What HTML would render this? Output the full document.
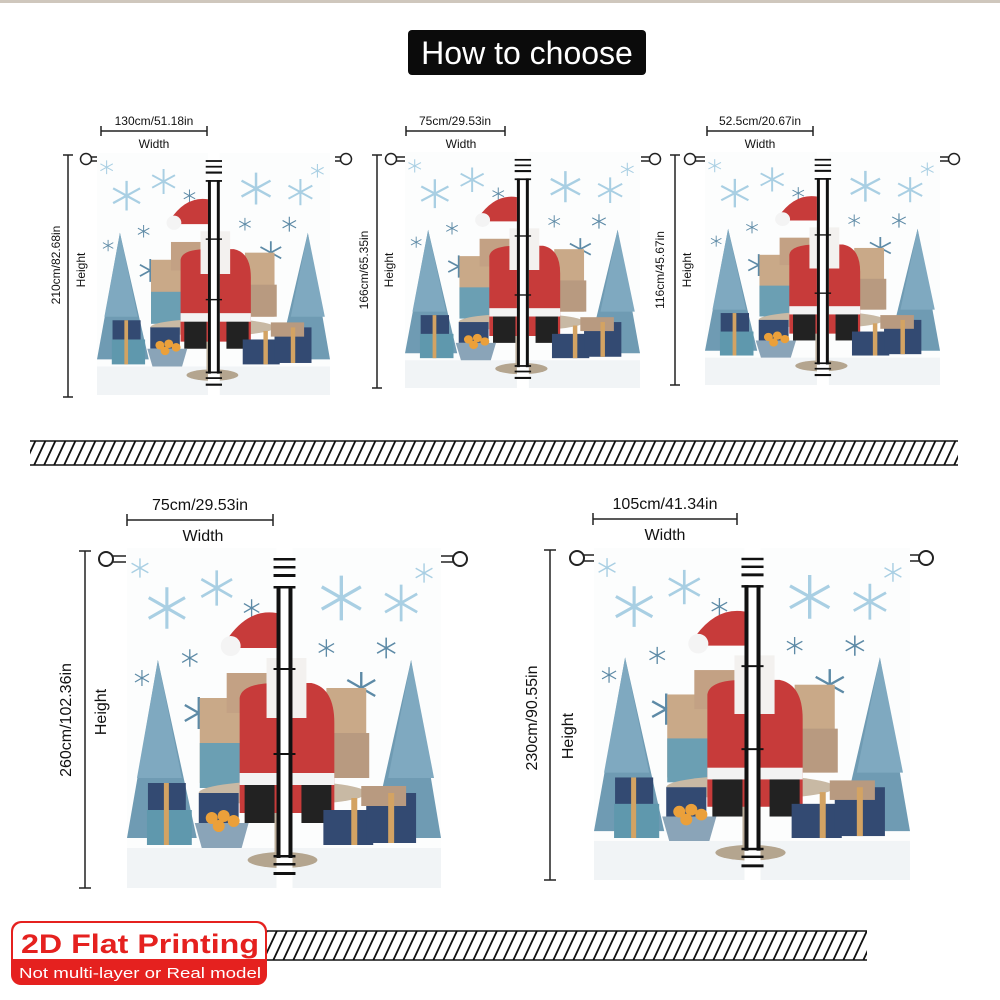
<!DOCTYPE html>
<html><head><meta charset="utf-8"><style>
html,body{margin:0;padding:0;background:#fff;}
svg{display:block;font-family:"Liberation Sans",sans-serif;}
</style></head><body>
<svg width="1000" height="1000" viewBox="0 0 1000 1000" xmlns="http://www.w3.org/2000/svg">
<defs>
<pattern id="hatch" width="10" height="30" patternUnits="userSpaceOnUse" patternTransform="skewX(-25)">
<rect width="10" height="30" fill="#fff"/><rect x="0" y="0" width="2" height="30" fill="#111"/>
</pattern>
<g id="flake"><path d="M0-8V8M-7-4L7 4M-7 4L7-4" stroke="currentColor" stroke-width="1.2"/></g>
<symbol id="cur" viewBox="0 0 315 340" preserveAspectRatio="none">
<rect width="315" height="340" fill="#fcfdfd"/>
<rect x="0" y="300" width="315" height="40" fill="#f1f4f6"/>
<g color="#a9cfe3">
<use href="#flake" transform="translate(90,40) scale(2.2)"/>
<use href="#flake" transform="translate(40,60) scale(2.6)"/>
<use href="#flake" transform="translate(215,50) scale(2.8)"/>
<use href="#flake" transform="translate(275,55) scale(2.3)"/>
<use href="#flake" transform="translate(13,20) scale(1.2)"/>
<use href="#flake" transform="translate(298,25) scale(1.2)"/>
</g>
<g color="#5d8aa6">
<use href="#flake" transform="translate(72,165) scale(2)"/>
<use href="#flake" transform="translate(235,140) scale(2)"/>
<use href="#flake" transform="translate(125,60) scale(1.1)"/>
<use href="#flake" transform="translate(260,100) scale(1.3)"/>
<use href="#flake" transform="translate(63,110) scale(1.1)"/>
<use href="#flake" transform="translate(200,100) scale(1.1)"/>
<use href="#flake" transform="translate(15,130) scale(1)"/>
</g>
<polygon points="31,112 0,290 70,290" fill="#6f9bb3"/>
<polygon points="31,112 10,230 55,230" fill="#7fa9c0"/>
<rect x="27" y="285" width="8" height="10" fill="#8a6d4f"/>
<polygon points="285,112 245,290 315,290" fill="#6f9bb3"/>
<polygon points="285,112 262,230 308,230" fill="#7fa9c0"/>
<rect x="73" y="150" width="70" height="85" fill="#c9a988"/>
<rect x="100" y="125" width="40" height="40" fill="#c3a184"/>
<rect x="73" y="195" width="45" height="45" fill="#6b9fb3"/>
<rect x="200" y="140" width="40" height="90" fill="#c9a988"/>
<rect x="195" y="185" width="48" height="45" fill="#b89a80"/>
<ellipse cx="156" cy="245" rx="84" ry="12" fill="#c8b9a4"/>
<rect x="148" y="250" width="16" height="60" fill="#bcae9a"/>
<ellipse cx="156" cy="312" rx="35" ry="8" fill="#b4a58f"/>
<path d="M113 150 Q115 135 150 135 L185 135 Q208 140 208 175 L208 265 L113 265 Z" fill="#c73b3a"/>
<rect x="140" y="110" width="40" height="60" fill="#f3f1ef"/>
<path d="M98 95 Q120 60 150 65 L165 70 L160 100 L110 100 Z" fill="#c73b3a"/>
<circle cx="104" cy="98" r="10" fill="#f4f4f4"/>
<rect x="118" y="235" width="30" height="40" fill="#222"/>
<rect x="175" y="235" width="30" height="40" fill="#222"/>
<rect x="113" y="225" width="95" height="12" fill="#f3f3f3"/>
<rect x="21" y="235" width="38" height="30" fill="#334a72"/>
<rect x="20" y="262" width="45" height="35" fill="#5f98ad"/>
<rect x="37" y="235" width="5" height="62" fill="#d3a363"/>
<rect x="72" y="245" width="40" height="30" fill="#334a72"/>
<path d="M68 275 L122 275 L115 300 L75 300 Z" fill="#8aa4b8"/>
<circle cx="85" cy="270" r="6" fill="#eba03a"/><circle cx="97" cy="268" r="6" fill="#eba03a"/><circle cx="107" cy="273" r="6" fill="#eba03a"/><circle cx="92" cy="278" r="6" fill="#eba03a"/>
<rect x="197" y="262" width="50" height="35" fill="#334a72"/>
<rect x="240" y="245" width="50" height="50" fill="#334a72"/>
<rect x="235" y="238" width="45" height="20" fill="#b89a80"/>
<rect x="225" y="250" width="6" height="47" fill="#d3a363"/>
<rect x="262" y="245" width="6" height="50" fill="#d3a363"/>
<rect x="150" y="0" width="16" height="340" fill="#fff"/>
<g fill="#111">
<rect x="147" y="10" width="22" height="2.5"/><rect x="147" y="18" width="22" height="2.5"/><rect x="147" y="26" width="22" height="3"/>
<rect x="150" y="38" width="4" height="272"/><rect x="162" y="38" width="4" height="272"/>
<rect x="147" y="38" width="22" height="2.5"/><rect x="147" y="307" width="22" height="2.5"/>
<rect x="147" y="315" width="22" height="2.5"/><rect x="147" y="324" width="22" height="3"/>
<rect x="147" y="120" width="22" height="2"/><rect x="147" y="205" width="22" height="2"/>
</g>
</symbol>
</defs>

<rect x="0" y="0" width="1000" height="3" fill="#cfc7bd"/>
<rect x="408" y="30" width="238" height="45" rx="4" fill="#0b0b0b"/>
<text x="527" y="64" font-size="32" fill="#fff" text-anchor="middle">How to choose</text>

<g stroke="#222" fill="none" stroke-width="1.5">
<path d="M101 131H207M101 126V136M207 126V136"/>
<path d="M68 155V397M63 155H73M63 397H73"/>
<circle cx="86" cy="159" r="5.5" fill="#fff"/><path d="M91 157H97M91 161H97"/>
<circle cx="346" cy="159" r="5.5" fill="#fff"/><path d="M335 157H341M335 161H341"/>
<path d="M406 131H505M406 126V136M505 126V136"/>
<path d="M377 155V388M372 155H382M372 388H382"/>
<circle cx="391" cy="159" r="5.5" fill="#fff"/><path d="M396 157H405M396 161H405"/>
<circle cx="655" cy="159" r="5.5" fill="#fff"/><path d="M641 157H650M641 161H650"/>
<path d="M707 131H813M707 126V136M813 126V136"/>
<path d="M675 155V385M670 155H680M670 385H680"/>
<circle cx="690" cy="159" r="5.5" fill="#fff"/><path d="M695 157H705M695 161H705"/>
<circle cx="954" cy="159" r="5.5" fill="#fff"/><path d="M940 157H949M940 161H949"/>
<path d="M127 520H273M127 514V526M273 514V526"/>
<path d="M85 551V888M79 551H91M79 888H91"/>
<circle cx="106" cy="559" r="7" fill="#fff" stroke-width="2"/><path d="M113 556H126M113 562H126"/>
<circle cx="460" cy="559" r="7" fill="#fff" stroke-width="2"/><path d="M440 556H453M440 562H453"/>
<path d="M593 519H737M593 513V525M737 513V525"/>
<path d="M550 550V880M544 550H556M544 880H556"/>
<circle cx="577" cy="558" r="7" fill="#fff" stroke-width="2"/><path d="M584 555H594M584 561H594"/>
<circle cx="926" cy="558" r="7" fill="#fff" stroke-width="2"/><path d="M910 555H919M910 561H919"/>
</g>

<use href="#cur" x="97" y="153" width="233" height="242"/>
<use href="#cur" x="405" y="152" width="235" height="236"/>
<use href="#cur" x="705" y="152" width="235" height="233"/>
<use href="#cur" x="127" y="548" width="314" height="340"/>
<use href="#cur" x="594" y="548" width="316" height="332"/>

<g fill="#111" text-anchor="middle">
<text x="154" y="125" font-size="12">130cm/51.18in</text>
<text x="154" y="148" font-size="12">Width</text>
<text x="455" y="125" font-size="12">75cm/29.53in</text>
<text x="461" y="148" font-size="12">Width</text>
<text x="760" y="125" font-size="12">52.5cm/20.67in</text>
<text x="760" y="148" font-size="12">Width</text>
<text transform="translate(60,265) rotate(-90)" font-size="12">210cm/82.68in</text>
<text transform="translate(85,270) rotate(-90)" font-size="12">Height</text>
<text transform="translate(368,270) rotate(-90)" font-size="12">166cm/65.35in</text>
<text transform="translate(393,270) rotate(-90)" font-size="12">Height</text>
<text transform="translate(664,270) rotate(-90)" font-size="12">116cm/45.67in</text>
<text transform="translate(691,270) rotate(-90)" font-size="12">Height</text>
<text x="200" y="510" font-size="16">75cm/29.53in</text>
<text x="203" y="541" font-size="16">Width</text>
<text x="665" y="509" font-size="16">105cm/41.34in</text>
<text x="665" y="540" font-size="16">Width</text>
<text transform="translate(71,720) rotate(-90)" font-size="16">260cm/102.36in</text>
<text transform="translate(106,712) rotate(-90)" font-size="16">Height</text>
<text transform="translate(537,718) rotate(-90)" font-size="16">230cm/90.55in</text>
<text transform="translate(573,736) rotate(-90)" font-size="16">Height</text>
</g>

<rect x="30" y="441" width="928" height="24" fill="url(#hatch)"/>
<path d="M30 441H958M30 465H958" stroke="#111" stroke-width="1.5"/>
<rect x="262" y="931" width="605" height="29" fill="url(#hatch)"/>
<path d="M262 931H867M262 960H867" stroke="#111" stroke-width="1.5"/>

<rect x="11" y="921" width="256" height="64" rx="10" fill="#e5211f"/>
<rect x="13" y="923" width="252" height="36" rx="9" fill="#fff"/>
<rect x="13" y="945" width="252" height="14" fill="#fff"/>
<text x="140" y="953" font-size="27" font-weight="bold" fill="#e5211f" text-anchor="middle" textLength="238" lengthAdjust="spacingAndGlyphs">2D Flat Printing</text>
<text x="140" y="978" font-size="15" fill="#fff" text-anchor="middle" textLength="242" lengthAdjust="spacingAndGlyphs">Not multi-layer or Real model</text>
</svg>
</body></html>
